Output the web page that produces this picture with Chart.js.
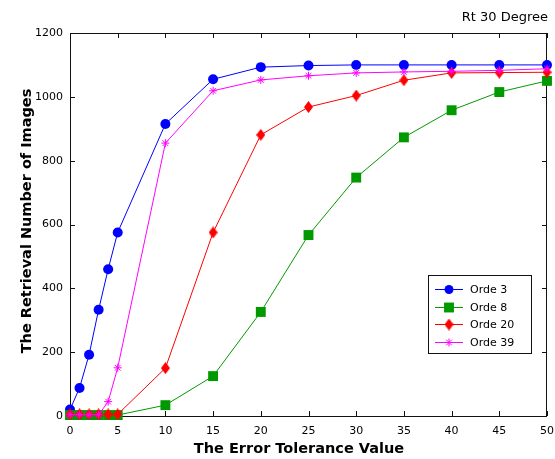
<!DOCTYPE html>
<html>
<head>
<meta charset="utf-8">
<script src="https://cdn.jsdelivr.net/npm/chart.js@4.4.0/dist/chart.umd.min.js"></script>
<style>
  html, body { margin: 0; padding: 0; background: #fff; }
  #wrap { width: 555px; height: 459px; }
</style>
</head>
<body>
<div id="wrap"><canvas id="chart" width="555" height="459"></canvas></div>
<script>
const xValues = [0, 1, 2, 3, 4, 5, 10, 15, 20, 25, 30, 35, 40, 45, 50];
const orde3 = [20, 88, 192, 333, 460, 575, 915, 1055, 1093, 1098, 1100, 1100, 1100, 1100, 1100];
const orde8 = [3, 3, 3, 3, 3, 3, 34, 125, 326, 567, 747, 873, 958, 1015, 1050];
const orde20 = [5, 5, 5, 5, 5, 5, 150, 575, 881, 968, 1004, 1052, 1075, 1076, 1077];
const orde39 = [4, 4, 4, 4, 45, 151, 855, 1019, 1053, 1066, 1075, 1078, 1080, 1083, 1088];
const seriesNames = ["Orde 3", "Orde 8", "Orde 20", "Orde 39"];
const xTicks = [0, 5, 10, 15, 20, 25, 30, 35, 40, 45, 50];
const yTicks = [0, 200, 400, 600, 800, 1000, 1200];

const titleText = "Rt 30 Degree";
const xTitle = "The Error Tolerance Value";
const yTitle = "The Retrieval Number of Images";

function diamond(color, w, h) {
  const c = document.createElement("canvas");
  c.width = w;
  c.height = h;
  const g = c.getContext("2d");
  g.fillStyle = color;
  g.beginPath();
  g.moveTo(w / 2, 0);
  g.lineTo(w, h / 2);
  g.lineTo(w / 2, h);
  g.lineTo(0, h / 2);
  g.closePath();
  g.fill();
  return c;
}

function toPoints(values) {
  return values.map((v, i) => ({ x: xValues[i], y: v }));
}

const blue = "#0000ff";
const green = "#009a00";
const red = "#ff0000";
const magenta = "#ff00ff";

const datasets = [
  { label: seriesNames[0], data: toPoints(orde3), borderColor: blue, backgroundColor: blue,
    pointStyle: "circle", pointRadius: 5, order: 4 },
  { label: seriesNames[1], data: toPoints(orde8), borderColor: green, backgroundColor: green,
    pointStyle: "rect", pointRadius: 7, order: 3 },
  { label: seriesNames[2], data: toPoints(orde20), borderColor: red, backgroundColor: red,
    pointStyle: diamond(red, 9, 12), pointRadius: 6, order: 2 },
  { label: seriesNames[3], data: toPoints(orde39), borderColor: magenta, backgroundColor: magenta,
    pointStyle: "star", pointRadius: 4, pointBorderWidth: 1, order: 1 }
];
datasets.forEach(d => {
  d.borderWidth = 1;
  d.tension = 0;
  d.clip = false;
  if (d.pointBorderWidth === undefined) d.pointBorderWidth = 0;
});

const frame = {
  id: "frame",
  beforeDatasetsDraw(chart) {
    const { ctx, chartArea: a, scales: { x, y } } = chart;
    ctx.save();
    ctx.strokeStyle = "#111";
    ctx.lineWidth = 1;
    ctx.strokeRect(a.left + 0.5, a.top + 0.5, a.right - a.left - 1, a.bottom - a.top);
    ctx.beginPath();
    xTicks.forEach(v => {
      const px = Math.round(x.getPixelForValue(v)) + 0.5;
      ctx.moveTo(px, a.bottom); ctx.lineTo(px, a.bottom - 5);
      ctx.moveTo(px, a.top); ctx.lineTo(px, a.top + 5);
    });
    yTicks.forEach(v => {
      const py = Math.round(y.getPixelForValue(v)) + 0.5;
      ctx.moveTo(a.left, py); ctx.lineTo(a.left + 5, py);
      ctx.moveTo(a.right, py); ctx.lineTo(a.right - 5, py);
    });
    ctx.stroke();

    ctx.fillStyle = "#000";
    ctx.font = "13px 'DejaVu Sans'";
    ctx.textAlign = "right";
    ctx.textBaseline = "alphabetic";
    ctx.fillText(titleText, 548, 21);

    ctx.font = "bold 14.5px 'DejaVu Sans'";
    ctx.textAlign = "center";
    ctx.fillText(xTitle, 299, 453);
    ctx.translate(31, 221);
    ctx.rotate(-Math.PI / 2);
    ctx.fillText(yTitle, 0, 0);
    ctx.restore();
  },
  afterDraw(chart) {
    const { ctx } = chart;
    ctx.save();
    ctx.fillStyle = "#fff";
    ctx.fillRect(428, 275, 103, 78);
    ctx.strokeStyle = "#111";
    ctx.lineWidth = 1;
    ctx.strokeRect(428.5, 275.5, 103, 78);
    ctx.font = "11px 'DejaVu Sans'";
    ctx.textAlign = "left";
    ctx.textBaseline = "middle";
    chart.data.datasets.forEach((d, i) => {
      const yy = Math.round(289 + i * 17.6) + 0.5;
      ctx.strokeStyle = d.borderColor;
      ctx.fillStyle = d.backgroundColor;
      ctx.lineWidth = 1;
      ctx.beginPath();
      ctx.moveTo(435, yy);
      ctx.lineTo(463, yy);
      ctx.stroke();
      Chart.helpers.drawPoint(ctx, {
        pointStyle: d.pointStyle,
        radius: d.pointStyle === "circle" ? 4.5 : d.pointRadius,
        rotation: 0,
        borderWidth: d.pointBorderWidth
      }, 449, yy);
      ctx.fillStyle = "#000";
      ctx.fillText(d.label, 470, yy + 0.5);
    });
    ctx.restore();
  }
};

new Chart(document.getElementById("chart"), {
  type: "line",
  data: { datasets },
  options: {
    responsive: false,
    animation: false,
    events: [],
    layout: { autoPadding: false, padding: { top: 33, right: 8, left: 0, bottom: 0 } },
    plugins: { legend: { display: false }, tooltip: { enabled: false } },
    scales: {
      x: {
        type: "linear",
        min: 0,
        max: 50,
        afterBuildTicks: s => { s.ticks = xTicks.map(v => ({ value: v })); },
        afterFit: s => { s.height = 43; s.paddingLeft = 0; s.paddingRight = 0; },
        grid: { display: false, drawTicks: false },
        border: { display: false },
        ticks: { padding: 9, color: "#000", font: { family: "'DejaVu Sans'", size: 11 }, maxRotation: 0,
          callback: v => String(v) }
      },
      y: {
        type: "linear",
        min: 0,
        max: 1200,
        afterBuildTicks: s => { s.ticks = yTicks.map(v => ({ value: v })); },
        afterFit: s => { s.width = 70; s.paddingTop = 0; s.paddingBottom = 0; },
        grid: { display: false, drawTicks: false },
        border: { display: false },
        ticks: { padding: 7, color: "#000", font: { family: "'DejaVu Sans'", size: 11 },
          callback: v => String(v) }
      }
    }
  },
  plugins: [frame]
});
</script>
</body>
</html>
